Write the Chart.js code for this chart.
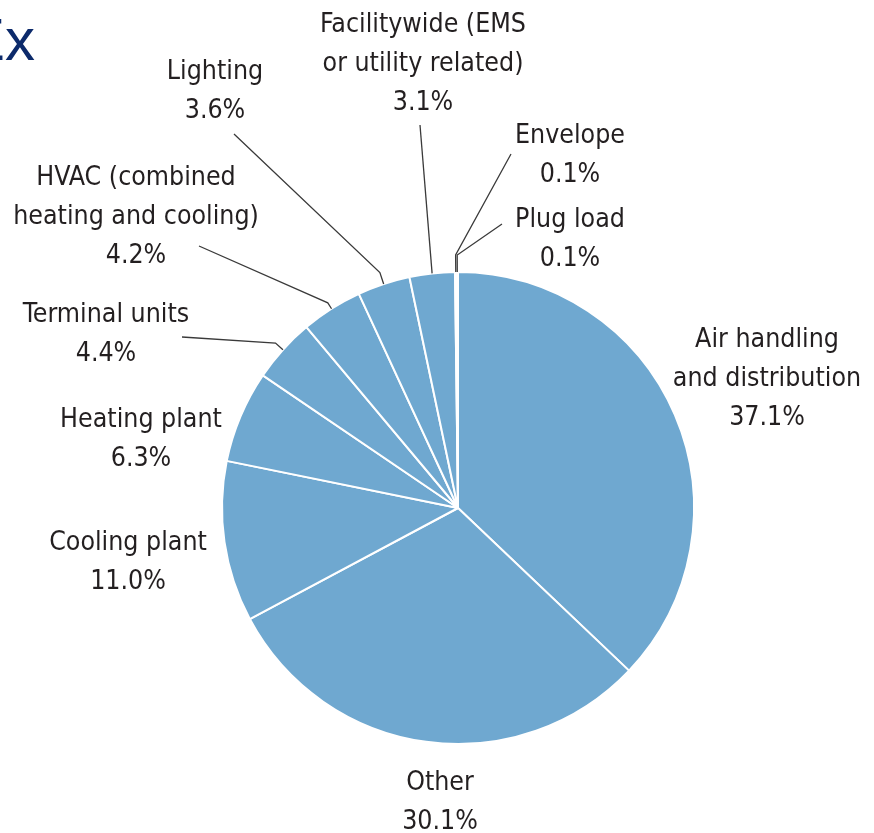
<!DOCTYPE html>
<html>
<head>
<meta charset="utf-8">
<script src="https://cdn.jsdelivr.net/npm/chart.js@4"></script>
<style>
  html, body { margin: 0; padding: 0; background: #fff; overflow: hidden; }
  #wrap { position: relative; width: 874px; height: 833px; overflow: hidden; }
  #title { position: absolute; left: -35px; top: 0px; font: 60px "Liberation Sans", Arial, sans-serif; color: #0c2a6b; line-height: 80px; white-space: nowrap; }
  canvas { position: absolute; left: 0; top: 0; }
</style>
</head>
<body>
<div id="wrap">
  <div id="title">Ex</div>
  <canvas id="chartOfTheWeek" width="874" height="833"></canvas>
</div>
<script>
// categories, clockwise from 12 o'clock
const categories = [
    ['Air handling', 'and distribution'],
    ['Other'],
    ['Cooling plant'],
    ['Heating plant'],
    ['Terminal units'],
    ['HVAC (combined', 'heating and cooling)'],
    ['Lighting'],
    ['Facilitywide (EMS', 'or utility related)'],
    ['Envelope'],
    ['Plug load']
];
const shares = [37.1, 30.1, 11.0, 6.3, 4.4, 4.2, 3.6, 3.1, 0.1, 0.1];  // percent of total

// where each label sits (text centre x, first baseline y) and where its leader line ends
const labelLayout = [
    { x: 767, y: 347 },
    { x: 440, y: 790 },
    { x: 128, y: 550 },
    { x: 141, y: 427 },
    { x: 106, y: 322, end: [182, 337], kink: 10 },
    { x: 136, y: 185, end: [199, 246], kink: 7 },
    { x: 215, y: 79,  end: [234, 134], kink: 12 },
    { x: 423, y: 32,  end: [420, 125], kink: 0 },
    { x: 570, y: 143, end: [511, 154], kink: 17 },
    { x: 570, y: 227, end: [502, 224], kink: 17 }
];

const lineH = 39;

const labelPlugin = {
    id: 'pieLabels',
    afterDatasetsDraw(chart) {
        const ctx = chart.ctx;
        const meta = chart.getDatasetMeta(0);
        ctx.save();
        meta.data.forEach((arc, i) => {
            const L = labelLayout[i];
            const mid = (arc.startAngle + arc.endAngle) / 2;
            const r = arc.outerRadius;
            if (L.end) {
                ctx.beginPath();
                ctx.strokeStyle = '#3a3a3a';
                ctx.lineWidth = 1.3;
                ctx.moveTo(arc.x + Math.cos(mid) * r, arc.y + Math.sin(mid) * r);
                ctx.lineTo(arc.x + Math.cos(mid) * (r + L.kink), arc.y + Math.sin(mid) * (r + L.kink));
                ctx.lineTo(L.end[0], L.end[1]);
                ctx.stroke();
            }
            const lines = categories[i].concat([shares[i].toFixed(1) + '%']);
            ctx.fillStyle = '#231f20';
            ctx.font = '26.5px "DejaVu Sans Condensed", "DejaVu Sans", sans-serif';
            ctx.textAlign = 'center';
            ctx.textBaseline = 'alphabetic';
            lines.forEach((t, k) => ctx.fillText(t, L.x, L.y + k * lineH));
        });
        ctx.restore();
    }
};

const ctx = document.getElementById('chartOfTheWeek').getContext('2d');
new Chart(ctx, {
    type: 'pie',
    data: {
        labels: categories.map(c => c.join(' ')),
        datasets: [{
            data: shares,
            backgroundColor: '#6fa8d0',
            borderColor: '#ffffff',
            borderWidth: 2
        }]
    },
    options: {
        responsive: false,
        devicePixelRatio: 1,
        animation: false,
        layout: { padding: { top: 271, bottom: 88, left: 221, right: 179 } },
        plugins: {
            legend: { display: false },
            tooltip: { enabled: false }
        }
    },
    plugins: [labelPlugin]
});
</script>
</body>
</html>
